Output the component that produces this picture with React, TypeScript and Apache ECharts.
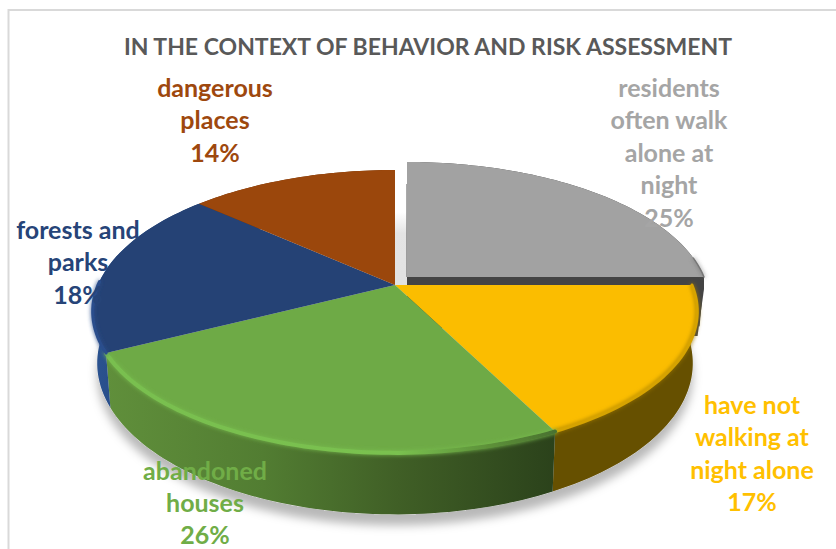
import React, { useEffect, useRef } from "react";
import * as echarts from "echarts";

const titleText = "IN THE CONTEXT OF BEHAVIOR AND RISK ASSESSMENT";
const sliceNames = [
  ["residents", "often walk", "alone at", "night"],
  ["have not", "walking at", "night alone"],
  ["abandoned", "houses"],
  ["forests and", "parks"],
  ["dangerous", "places"],
];
const sliceValues = [25, 17, 26, 18, 14];

// Perspective disc: a homography of the unit circle plus an extruded lower rim.
const CX = 395;
const CY = 285;
const RX = 297;
const RY = 136.5;
const TILT = 0.187;
const DEPTH = 50;
const BOTTOM_SHRINK = 0.985;
const STEP = (1.5 * Math.PI) / 180;
const SQUASH = 0.044;
const LINE_GAP = 32.4;

const topColors = ["#a2a2a2", "#fbbd00", "#6eaa46", "#254275", "#9b470c"];
const textColors = ["#a5a5a5", "#ffc000", "#70ad47", "#264478", "#9e480e"];
const labelTops = [
  [669, 87],
  [752, 404],
  [205, 469.5],
  [78, 229],
  [215, 87],
];
const sliceOffsets = [
  [12, -8],
  [0, 0],
  [0, 0],
  [0, 0],
  [0, 0],
];

const lin = (stops: [number, string][]) =>
  new echarts.graphic.LinearGradient(
    0,
    0,
    1,
    0,
    stops.map(([offset, color]) => ({ offset, color })),
  );

const wallFills: any[] = [
  "#444444",
  "#665000",
  lin([
    [0, "#608f3b"],
    [0.35, "#527d32"],
    [0.65, "#405f26"],
    [1, "#2b421b"],
  ]),
  lin([
    [0, "#2b5391"],
    [0.5, "#24457d"],
    [1, "#1d3660"],
  ]),
  "#6e3209",
];
const rimStrokes: any[] = [
  "#777777",
  "#d6a300",
  lin([
    [0, "#79bf4f"],
    [0.65, "#7ac150"],
    [0.85, "#5d9139"],
    [1, "#4a7230"],
  ]),
  "#2a4e8c",
  "#9b470c",
];
const rimGlows = ["#666666", "#9c7700", "#78bd4e", "#2a4e8c", "#9b470c"];
const rimWidths = [1.5, 3, 4, 3, 3];

const project = (angle: number, bottom: boolean, off: number[]) => {
  // The 3D view foreshortens the disc a little unevenly between the axes.
  const theta = angle - SQUASH * Math.sin(2 * angle);
  const u = Math.sin(theta);
  const v = -Math.cos(theta);
  const s = 1 / (1 - TILT * v);
  const px = RX * u * s * (bottom ? BOTTOM_SHRINK : 1);
  const py = RY * v * s + (bottom ? DEPTH * s : 0);
  return [CX + px + off[0], CY + py + off[1]];
};

const arcPoints = (a0: number, a1: number, bottom: boolean, off: number[]) => {
  const pts: number[][] = [];
  const n = Math.max(2, Math.ceil((a1 - a0) / STEP));
  for (let i = 0; i <= n; i++) pts.push(project(a0 + ((a1 - a0) * i) / n, bottom, off));
  return pts;
};

const total = sliceValues.reduce((a, b) => a + b, 0);
const angleRange = (index: number) => {
  let before = 0;
  for (let i = 0; i < index; i++) before += sliceValues[i];
  return [
    (before / total) * Math.PI * 2,
    ((before + sliceValues[index]) / total) * Math.PI * 2,
  ];
};

const renderWall = (params: any) => {
  const i = params.dataIndex;
  const [a0, a1] = angleRange(i);
  const off = sliceOffsets[i];
  const children: any[] = [
    {
      type: "polygon",
      shape: {
        points: [...arcPoints(a0, a1, false, off), ...arcPoints(a0, a1, true, off).reverse()],
      },
      style: { fill: wallFills[i] },
    },
  ];
  if (off[0] !== 0) {
    // Cut faces of the pulled-out slice: the horizontal one shows above the next slice.
    const centreTop = [CX + off[0], CY + off[1]];
    const corner = project(a1, false, off);
    const cornerLow = project(a1, true, off);
    children.push({
      type: "polygon",
      shape: {
        points: [
          centreTop,
          corner,
          [corner[0], corner[1] + 12],
          [cornerLow[0] - 2, cornerLow[1] + 9],
          [cornerLow[0] - 8, cornerLow[1] + 9],
          [centreTop[0], centreTop[1] + DEPTH],
        ],
      },
      style: { fill: wallFills[i] },
    });
    const back = project(a0, false, off);
    children.push({
      type: "line",
      shape: { x1: centreTop[0], y1: back[1] + 22, x2: centreTop[0], y2: centreTop[1] },
      style: { stroke: "#555555", lineWidth: 1 },
    });
  }
  return { type: "group", children };
};

const renderTop = (params: any) => {
  const i = params.dataIndex;
  const [a0, a1] = angleRange(i);
  const off = sliceOffsets[i];
  const rim = arcPoints(a0, a1, false, off);
  return {
    type: "group",
    children: [
      {
        type: "polygon",
        shape: { points: [[CX + off[0], CY + off[1]], ...rim] },
        style: { fill: topColors[i] },
      },
      {
        type: "polyline",
        shape: { points: rim.filter((p) => p[1] > CY + (i === 0 ? -30 : -5)) },
        style: {
          stroke: rimStrokes[i],
          lineWidth: rimWidths[i],
          fill: "none",
          lineCap: "round",
          shadowBlur: 4,
          shadowColor: rimGlows[i],
        },
      },
    ],
  };
};

// One text element per line keeps each line box inside the canvas.
const renderLabel = (params: any, api: any) => {
  const i = params.dataIndex;
  const lines = [...sliceNames[i], `${api.value(0)}%`];
  return {
    type: "group",
    children: lines.map((line, n) => ({
      type: "text",
      style: {
        text: line,
        x: labelTops[i][0],
        y: labelTops[i][1] + n * LINE_GAP,
        fill: textColors[i],
        fontFamily: "Lato",
        fontWeight: "bold",
        fontSize: 25,
        align: "center",
        verticalAlign: "middle",
      },
    })),
  };
};

// Soft grey footprint under the pie, it also shows through the gap behind the pulled-out slice.
const renderFootprint = () => ({
  type: "polygon",
  shape: { points: arcPoints(0, Math.PI * 2, true, [0, 0]) },
  style: {
    fill: new echarts.graphic.LinearGradient(0, 0, 0, 1, [
      { offset: 0, color: "#ffffff" },
      { offset: 0.07, color: "#e4e4e4" },
      { offset: 1, color: "#d8d8d8" },
    ]),
    shadowBlur: 10,
    shadowColor: "rgba(0,0,0,0.28)",
    shadowOffsetY: 11,
  },
});

export default function App() {
  const ref = useRef<HTMLDivElement>(null);
  useEffect(() => {
    const chart = echarts.init(ref.current!, null, { renderer: "svg" });
    const base = { type: "custom", coordinateSystem: "none", silent: true, animation: false };
    chart.setOption({
      animation: false,
      backgroundColor: "#ffffff",
      title: {
        text: titleText,
        left: 423,
        top: 29,
        textAlign: "center",
        textStyle: { fontFamily: "Lato", fontWeight: "bold", fontSize: 23, color: "#595959" },
      },
      graphic: [
        {
          type: "rect",
          shape: { x: 8.5, y: 10, width: 1000, height: 1000 },
          style: { fill: "none", stroke: "#d9d9d9", lineWidth: 2 },
          silent: true,
          z: -1,
        },
      ],
      series: [
        { ...base, z: 1, data: [1], renderItem: renderFootprint },
        { ...base, z: 2, data: sliceValues, renderItem: renderWall },
        { ...base, z: 3, data: sliceValues, renderItem: renderTop },
        { ...base, z: 4, data: sliceValues, renderItem: renderLabel },
      ],
    });
    return () => chart.dispose();
  }, []);
  return <div ref={ref} style={{ position: "fixed", left: 0, top: 0, width: 836, height: 549 }} />;
}
